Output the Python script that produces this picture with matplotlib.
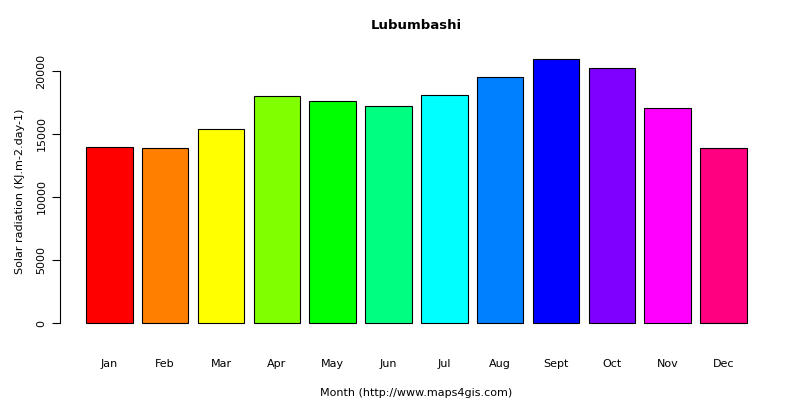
import matplotlib
matplotlib.use("Agg")
import matplotlib.pyplot as plt

months = ["Jan","Feb","Mar","Apr","May","Jun","Jul","Aug","Sept","Oct","Nov","Dec"]
values = [13950, 13890, 15400, 18020, 17620, 17220, 18100, 19520, 20950, 20240, 17060, 13890]
colors = ["#FF0000","#FF8000","#FFFF00","#80FF00","#00FF00","#00FF80",
          "#00FFFF","#0080FF","#0000FF","#8000FF","#FF00FF","#FF0080"]

fig = plt.figure(figsize=(8, 4), dpi=100)
ax = fig.add_axes([0.0745, 0.166, 0.892, 0.713])
x = [0.7 + 1.2*i for i in range(len(values))]
ax.bar(x, values, width=1.0, color=colors, edgecolor="black", linewidth=0.8)
ax.set_xlim(-0.368, 14.968)
ax.set_ylim(-838, 21788)
for s in ["top", "right", "bottom"]:
    ax.spines[s].set_visible(False)
ax.spines["left"].set_bounds(0, 20000)
ax.spines["left"].set_position(("outward", 0))
ax.set_yticks([0, 5000, 10000, 15000, 20000])
ax.set_yticklabels(["0", "5000", "10000", "15000", "20000"], rotation=90, va="center", fontsize=8)
ax.tick_params(axis="y", length=6)
ax.set_xticks(x)
ax.set_xticklabels(months, fontsize=8)
ax.tick_params(axis="x", length=0, pad=18)
ax.set_title("Lubumbashi", fontsize=9.5, fontweight="bold", pad=14)
ax.set_xlabel("Month (http://www.maps4gis.com)", fontsize=8, labelpad=14)
ax.set_ylabel("Solar radiation (KJ.m-2.day-1)", fontsize=8, labelpad=8)
fig.savefig("out.png", dpi=100)
